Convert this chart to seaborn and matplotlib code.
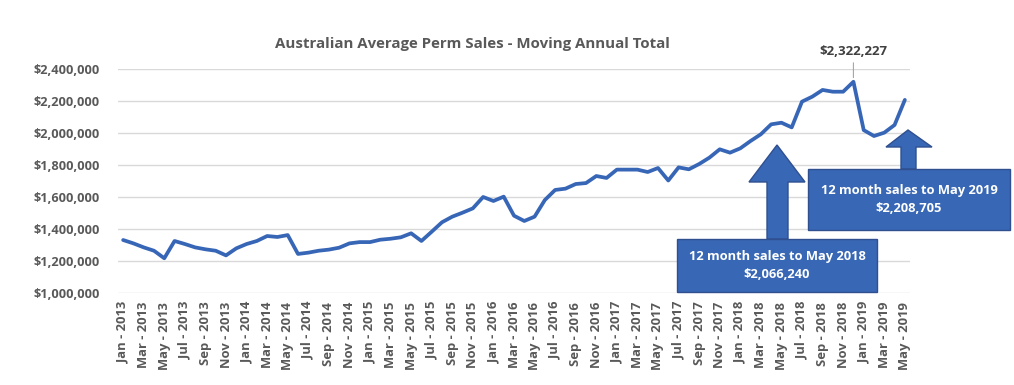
import matplotlib
matplotlib.use("Agg")
import matplotlib.pyplot as plt
from matplotlib.patches import Polygon, Rectangle
import seaborn as sns
import pandas as pd

months = ["Jan", "Feb", "Mar", "Apr", "May", "Jun", "Jul", "Aug", "Sep", "Oct", "Nov", "Dec"]
periods = [f"{m} - {y}" for y in range(2013, 2020) for m in months][:77]

values_k = [
    1333, 1312, 1287, 1266, 1219, 1327, 1308, 1287, 1275, 1266, 1237, 1281,
    1308, 1327, 1358, 1352, 1364, 1246, 1254, 1266, 1273, 1285, 1312, 1320,
    1320, 1335, 1341, 1350, 1375, 1327, 1385, 1444, 1479, 1504, 1531, 1602,
    1577, 1604, 1485, 1452, 1479, 1583, 1646, 1654, 1683, 1689, 1733, 1721,
    1773, 1773, 1773, 1758, 1783, 1705, 1787, 1775, 1808, 1848, 1900, 1879,
    1906, 1952, 1994, 2056, 2066.240, 2037, 2198, 2229, 2271, 2260, 2260, 2322.227,
    2020, 1983, 2004, 2052, 2208.705,
]
values = [v * 1000 for v in values_k]

title = "Australian Average Perm Sales - Moving Annual Total"
peak_label = "$2,322,227"
box1_text = "12 month sales to May 2018\n$2,066,240"
box2_text = "12 month sales to May 2019\n$2,208,705"

sns.set_theme(style="white")
plt.rcParams["font.family"] = ["Open Sans", "DejaVu Sans"]

W, H = 1014, 385
fig = plt.figure(figsize=(W / 100, H / 100), dpi=100)
ax = fig.add_axes([118 / W, 1 - 293.3 / H, (910 - 118) / W, (293.3 - 69.3) / H])

df = pd.DataFrame({"idx": range(len(values)), "value": values})
line_color = "#3866b7"
sns.lineplot(data=df, x="idx", y="value", ax=ax, color=line_color, linewidth=2.7, zorder=3)

ax.set_xlim(-0.5, len(values) - 0.5)
ax.set_ylim(1_000_000, 2_400_000)
yt = list(range(1_000_000, 2_400_001, 200_000))
ax.set_yticks(yt)
ax.set_yticklabels([f"${v:,.0f}" for v in yt], fontsize=9.2, fontweight="bold", color="#595959")
ax.set_xticks(range(0, len(values), 2))
ax.set_xticklabels(periods[::2], rotation=90, fontsize=9.4, fontweight="bold", color="#595959")
ax.tick_params(axis="both", length=0, pad=6)
ax.tick_params(axis="y", pad=13)
ax.set_xlabel("")
ax.set_ylabel("")
ax.grid(axis="y", color="#d9d9d9", linewidth=1)
ax.grid(axis="x", visible=False)
for s in ax.spines.values():
    s.set_visible(False)

fig.text(472 / W, 1 - 44 / H, title, ha="center", va="center", fontsize=10.8,
         fontweight="bold", color="#595959")

peak_i = values.index(max(values))
ax.annotate(peak_label, xy=(peak_i, values[peak_i]), xytext=(0, 17), textcoords="offset points",
            ha="center", va="bottom", fontsize=9.5, fontweight="bold", color="#404040",
            arrowprops=dict(arrowstyle="-", color="#a6a6a6", lw=0.8, shrinkA=1, shrinkB=3))


def fxy(pts):
    return [(x / W, 1 - y / H) for x, y in pts]


box_fill = "#3867b5"
box_edge = "#2f4f8f"
arrow1 = [(777, 145), (805, 182), (788, 182), (788, 239), (767, 239), (767, 182), (749, 182)]
arrow2 = [(908, 130), (932, 147), (916, 147), (916, 169), (901, 169), (901, 147), (886, 147)]
for pts in (arrow1, arrow2):
    fig.patches.append(Polygon(fxy(pts), closed=True, transform=fig.transFigure,
                               facecolor=box_fill, edgecolor=box_edge, linewidth=1, zorder=5))

for (x0, y0, x1, y1), txt in (((677, 239, 877, 292), box1_text), ((808, 169, 1010, 230), box2_text)):
    fig.patches.append(Rectangle((x0 / W, 1 - y1 / H), (x1 - x0) / W, (y1 - y0) / H,
                                 transform=fig.transFigure, facecolor=box_fill,
                                 edgecolor=box_edge, linewidth=1, zorder=6))
    fig.text((x0 + x1) / 2 / W, 1 - (y0 + y1) / 2 / H, txt, ha="center", va="center",
             fontsize=9.3, fontweight="bold", color="white", linespacing=1.5, zorder=7)

fig.savefig("out.png", dpi=100, facecolor="white")
